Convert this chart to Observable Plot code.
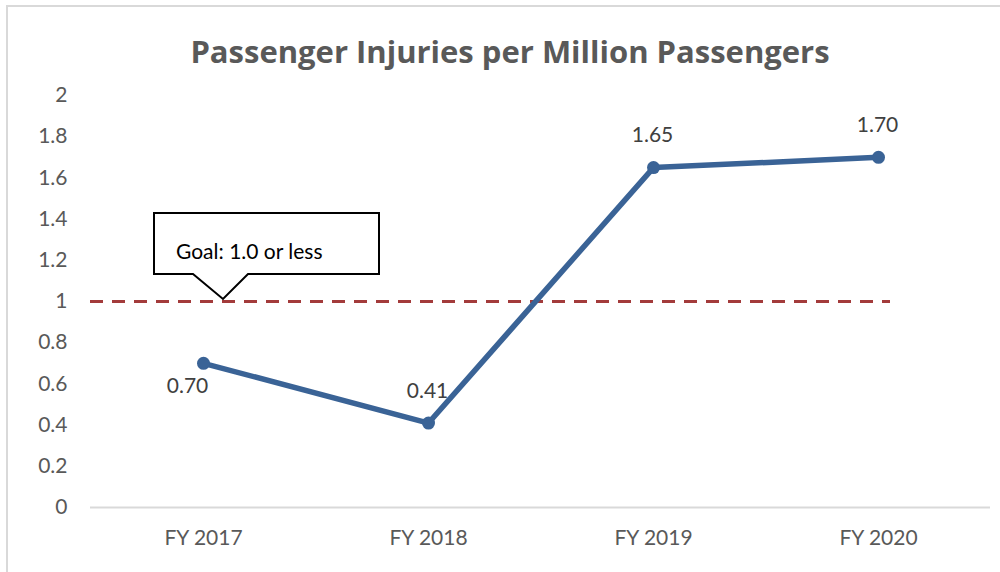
<!DOCTYPE html>
<html>
<head>
<meta charset="utf-8">
<script src="https://cdn.jsdelivr.net/npm/d3@7"></script>
<script src="https://cdn.jsdelivr.net/npm/@observablehq/plot@0.6"></script>
<style>
  html, body { margin: 0; padding: 0; background: #fff; }
  #wrap { position: relative; width: 1000px; height: 572px; overflow: hidden; background: #fff; }
  #frame { position: absolute; left: 6px; top: 5px; width: 1000px; height: 600px;
           border-left: 2px solid #d9d9d9; border-top: 2px solid #d9d9d9; box-sizing: border-box; }
  #title { position: absolute; left: 0; top: 0; width: 1000px; height: 75px; text-align: center;
           font-family: "Open Sans", Lato, sans-serif; font-weight: bold; font-size: 31px;
           color: #595959; line-height: 32px; padding-top: 35px; box-sizing: border-box; padding-left: 20px; }
  #chart { position: absolute; left: 0; top: 75px; }
</style>
</head>
<body>
<div id="wrap">
  <div id="frame"></div>
  <div id="title">Passenger Injuries per Million Passengers</div>
  <div id="chart"></div>
</div>
<script>
const years = ["FY 2017", "FY 2018", "FY 2019", "FY 2020"];
const injuries = [0.70, 0.41, 1.65, 1.70];
const valueLabels = ["0.70", "0.41", "1.65", "1.70"];
const yTicks = [0, 0.2, 0.4, 0.6, 0.8, 1, 1.2, 1.4, 1.6, 1.8, 2];
const yTickLabels = ["0", "0.2", "0.4", "0.6", "0.8", "1", "1.2", "1.4", "1.6", "1.8", "2"];
const goalValue = 1.0;
const goalText = "Goal: 1.0 or less";
const goalAnchorYear = "FY 2017";

const data = years.map((y, i) => ({ year: y, value: injuries[i], label: valueLabels[i] }));

const lineColor = "#3a6396";
const goalColor = "#a33b3b";
const font = "Lato, 'Open Sans', sans-serif";

// Callout mark drawn through the scales
function callout(index, scales) {
  const ax = scales.x(goalAnchorYear) + 20;
  const ay = scales.y(goalValue) - 2;
  const bottom = ay - 25, top = bottom - 61;
  const left = ax - 69, right = ax + 156;
  const g = d3.create("svg:g");
  g.append("path")
    .attr("d", `M${left},${top}H${right}V${bottom}H${ax + 25}L${ax},${ay}L${ax - 30},${bottom}H${left}Z`)
    .attr("fill", "#fff").attr("stroke", "#000").attr("stroke-width", 2);
  g.append("text")
    .attr("x", left + 22).attr("y", bottom - 15)
    .attr("text-anchor", "start")
    .attr("font-family", font).attr("font-size", 21).attr("fill", "#000")
    .text(goalText);
  return g.node();
}

const chart = Plot.plot({
  width: 1000,
  height: 497,
  marginLeft: 90,
  marginRight: 10,
  marginTop: 20,
  marginBottom: 65,
  style: { fontFamily: font, background: "transparent" },
  x: { type: "point", domain: years, padding: 0.5, label: null },
  y: { domain: [0, 2], label: null },
  marks: [
    Plot.axisY({ ticks: yTicks, tickFormat: (d) => yTickLabels[yTicks.indexOf(d)], tickSize: 0, tickPadding: 23,
                 fontSize: 21, color: "#595959", label: null }),
    Plot.axisX({ tickSize: 0, tickPadding: 23, fontSize: 21, color: "#595959", label: null }),
    Plot.ruleY([0], { stroke: "#d9d9d9", strokeWidth: 2 }),
    Plot.ruleY([goalValue], { stroke: goalColor, strokeWidth: 3, strokeDasharray: "13 9", insetRight: 100 }),
    Plot.line(data, { x: "year", y: "value", stroke: lineColor, strokeWidth: 5.5 }),
    Plot.dot(data, { x: "year", y: "value", r: 6.5, fill: lineColor }),
    Plot.text(data.filter((d, i) => i === 0), { x: "year", y: "value", text: "label", dx: -16, dy: 23,
              fontSize: 21, fill: "#404040" }),
    Plot.text(data.filter((d, i) => i > 0), { x: "year", y: "value", text: "label", dx: -1, dy: -32,
              fontSize: 21, fill: "#404040" }),
    callout
  ]
});
document.getElementById("chart").appendChild(chart);
</script>
</body>
</html>
